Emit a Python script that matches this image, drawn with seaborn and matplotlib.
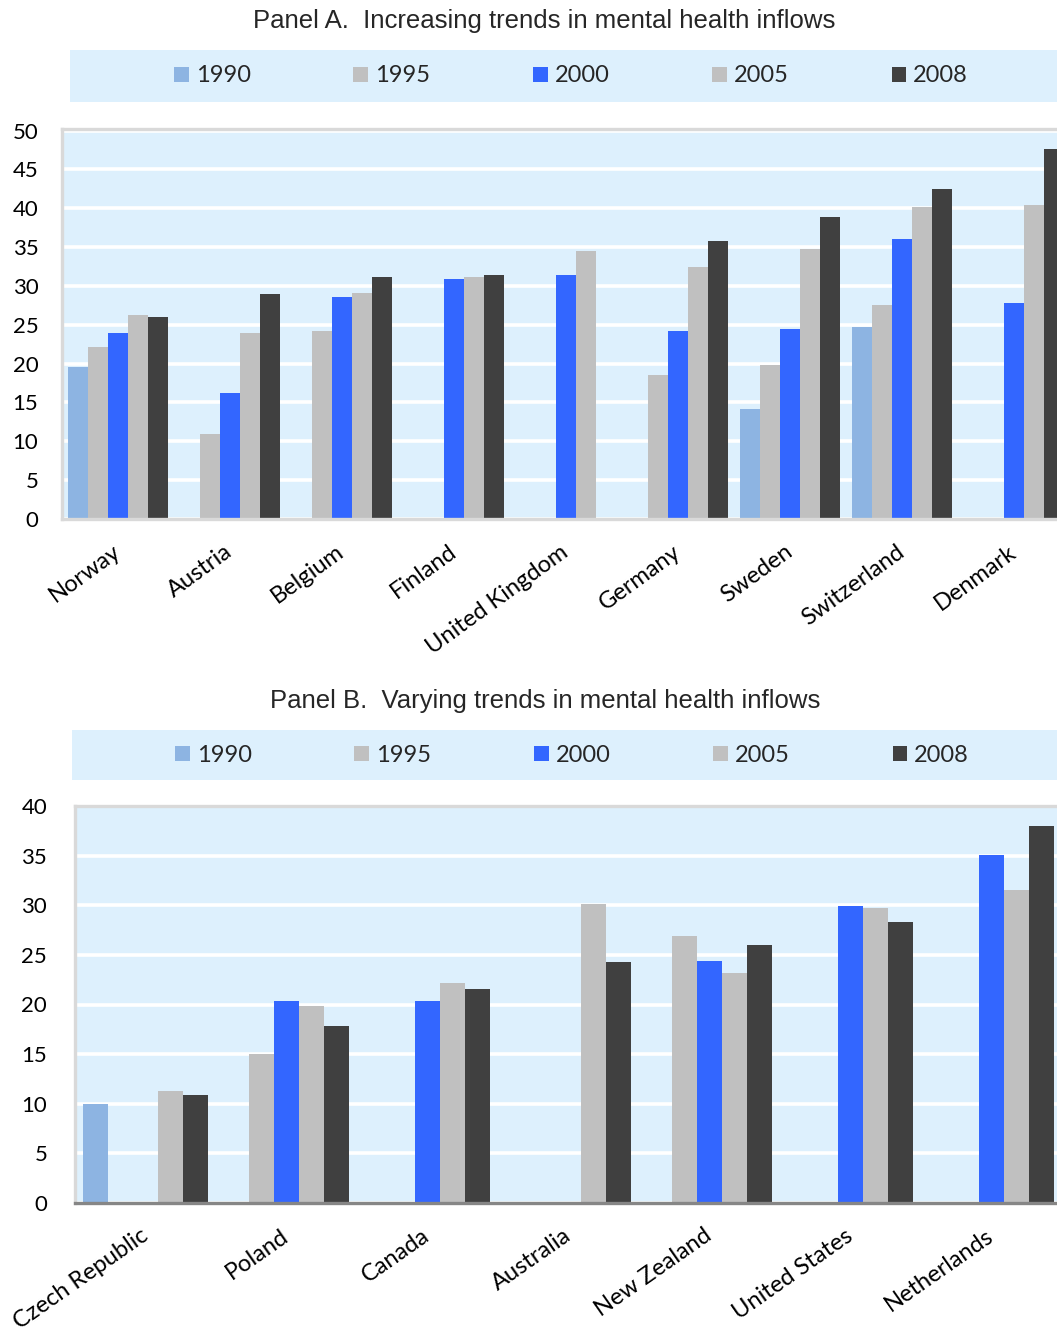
import numpy as np
import pandas as pd
import matplotlib
matplotlib.use("Agg")
import matplotlib.pyplot as plt
import seaborn as sns

nan = np.nan

years = ["1990", "1995", "2000", "2005", "2008"]
year_colors = ["#8DB4E2", "#C0C0C0", "#3366FF", "#C0C0C0", "#404040"]

# Panel A: increasing trends
countries_a = ["Norway", "Austria", "Belgium", "Finland", "United Kingdom",
               "Germany", "Sweden", "Switzerland", "Denmark"]
a_1990 = [19.6, nan, nan, nan, nan, nan, 14.2, 24.7, nan]
a_1995 = [22.1, 10.9, 24.2, nan, nan, 18.5, 19.8, 27.5, nan]
a_2000 = [24.0, 16.2, 28.6, 30.9, 31.4, 24.2, 24.5, 36.1, 27.8]
a_2005 = [26.3, 24.0, 29.1, 31.1, 34.5, 32.4, 34.7, 40.1, 40.4]
a_2008 = [26.0, 28.9, 31.2, 31.4, nan, 35.8, 38.9, 42.5, 47.6]
ticks_a = [0, 5, 10, 15, 20, 25, 30, 35, 40, 45, 50]

# Panel B: varying trends
countries_b = ["Czech Republic", "Poland", "Canada", "Australia",
               "New Zealand", "United States", "Netherlands"]
b_1990 = [10.0, nan, nan, nan, nan, nan, nan]
b_1995 = [nan, 15.0, nan, nan, 26.9, nan, nan]
b_2000 = [nan, 20.4, 20.4, nan, 24.4, 29.9, 35.1]
b_2005 = [11.3, 19.8, 22.2, 30.1, 23.2, 29.7, 31.5]
b_2008 = [10.9, 17.8, 21.6, 24.3, 26.0, 28.3, 38.0]
ticks_b = [0, 5, 10, 15, 20, 25, 30, 35, 40]

title_a = "Panel A.  Increasing trends in mental health inflows"
title_b = "Panel B.  Varying trends in mental health inflows"

BG = "#DDF0FD"
FRAME = "#D9D9D9"

sns.set_theme(style="white")
plt.rcParams["font.family"] = ["Lato", "DejaVu Sans"]


def long_frame(countries, series):
    rows = []
    for yr, vals in zip(years, series):
        for c, v in zip(countries, vals):
            if not np.isnan(v):
                rows.append({"country": c, "year": yr, "value": v})
    return pd.DataFrame(rows)


palette = dict(zip(years, year_colors))

fig = plt.figure(figsize=(10.57, 13.34), dpi=100)
W, H = 1057.0, 1334.0


def px_axes(x0, x1, ytop, ybot):
    return fig.add_axes([x0 / W, 1 - ybot / H, (x1 - x0) / W, (ybot - ytop) / H])


def draw_panel(ax, countries, series, ticks, ymax, rot, ypad, xpad, bottom_color):
    df = long_frame(countries, series)
    sns.barplot(data=df, x="country", y="value", hue="year",
                order=countries, hue_order=years, palette=palette,
                width=0.893, saturation=1, errorbar=None, linewidth=0,
                ax=ax)
    handles, labels = ax.get_legend_handles_labels()
    if ax.get_legend() is not None:
        ax.get_legend().remove()
    ax.set_facecolor(BG)
    ax.set_ylim(0, ymax)
    ax.set_xlim(-0.5, len(countries) - 0.5)
    ax.set_yticks(ticks)
    ax.set_yticklabels([str(t) for t in ticks])
    ax.yaxis.grid(True, color="white", linewidth=2.6)
    ax.xaxis.grid(False)
    ax.set_axisbelow(True)
    ax.set_xlabel("")
    ax.set_ylabel("")
    ax.tick_params(axis="y", length=0, pad=ypad, labelsize=16, labelcolor="black")
    ax.tick_params(axis="x", length=0, pad=xpad, labelsize=17, labelcolor="black")
    for lab in ax.get_xticklabels():
        lab.set_rotation(rot)
        lab.set_ha("right")
        lab.set_va("center")
        lab.set_rotation_mode("anchor")
    for side in ["left", "top"]:
        ax.spines[side].set_visible(True)
        ax.spines[side].set_color(FRAME)
        ax.spines[side].set_linewidth(2.4)
    ax.spines["bottom"].set_visible(True)
    ax.spines["bottom"].set_color(bottom_color)
    ax.spines["bottom"].set_linewidth(2.4)
    ax.spines["right"].set_visible(False)
    return handles, labels


def draw_legend_band(x0, x1, ytop, ybot, handles, labels):
    lax = px_axes(x0, x1, ytop, ybot)
    lax.set_facecolor(BG)
    lax.set_xticks([])
    lax.set_yticks([])
    for s in lax.spines.values():
        s.set_visible(False)
    lax.legend(handles, labels, loc="center", ncol=5, frameon=False,
               fontsize=17, handlelength=0.62, handleheight=0.62,
               handletextpad=0.3, columnspacing=4.35,
               bbox_to_anchor=(0.5, 0.5))


# Panel A
ax_a = px_axes(62, 1070, 129, 519)
h_a, l_a = draw_panel(ax_a, countries_a,
                      [a_1990, a_1995, a_2000, a_2005, a_2008],
                      ticks_a, 50.2, 36, 17, 22, FRAME)
draw_legend_band(70, 1072, 50, 102, h_a, l_a)
fig.text(544 / W, 1 - 21 / H, title_a, ha="center", va="center",
         fontsize=18.5, family=["Liberation Sans", "DejaVu Sans"])

# Panel B
ax_b = px_axes(75, 1062, 806, 1203)
h_b, l_b = draw_panel(ax_b, countries_b,
                      [b_1990, b_1995, b_2000, b_2005, b_2008],
                      ticks_b, 40.0, 35, 20, 22, "#868686")
draw_legend_band(72, 1072, 730, 780, h_b, l_b)
fig.text(545 / W, 1 - 701 / H, title_b, ha="center", va="center",
         fontsize=18.5, family=["Liberation Sans", "DejaVu Sans"])

fig.savefig("out.png", dpi=100, facecolor="white")
